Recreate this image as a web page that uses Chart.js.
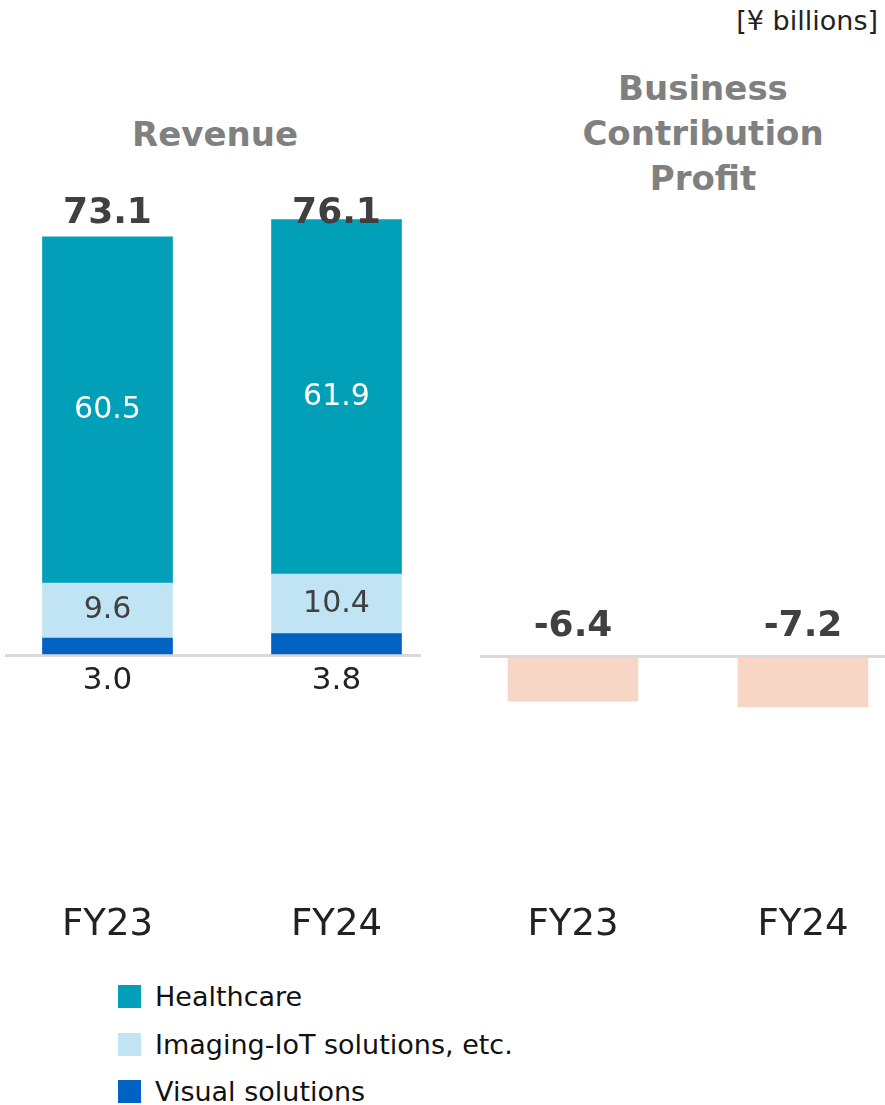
<!DOCTYPE html>
<html>
<head>
<meta charset="utf-8">
<script src="https://cdn.jsdelivr.net/npm/chart.js@4"></script>
<style>
body { margin:0; width:885px; height:1105px; background:#fff; font-family:'DejaVu Sans', Verdana, sans-serif; position:relative; overflow:hidden; }
.box { position:absolute; top:0; height:1000px; overflow:hidden; }
.box canvas { position:absolute; top:0; }
.unit { position:absolute; right:7px; top:5px; font-size:27px; color:#222; }
.title { position:absolute; width:400px; font-weight:bold; font-size:34px; color:#808080; text-align:center; line-height:45px; }
#legend { position:absolute; left:118px; top:973px; }
.item { height:47.5px; display:flex; align-items:center; font-size:27px; color:#111; }
.sw { width:23px; height:23px; margin-right:14px; }
</style>
</head>
<body>
<div class="unit">[¥ billions]</div>
<div class="title" style="left:15px; top:112px;">Revenue</div>
<div class="title" style="left:503px; top:66px;">Business<br>Contribution<br>Profit</div>

<div class="box" style="left:5px; width:416px;">
    <canvas id="revenueChart" width="458" height="965" style="left:-12px;"></canvas>
</div>
<div class="box" style="left:480px; width:405px;">
    <canvas id="profitChart" width="460" height="965" style="left:-22px;"></canvas>
</div>

<div id="legend"></div>

<script>
const years = ['FY23', 'FY24'];
const segmentNames = ['Healthcare', 'Imaging-IoT solutions, etc.', 'Visual solutions'];
const segmentColors = ['#029fb8', '#c1e4f5', '#0062c3'];
const healthcare = [60.5, 61.9];
const imaging = [9.6, 10.4];
const visual = [3.0, 3.8];
const revenueTotal = [73.1, 76.1];
const profit = [-6.4, -7.2];

Chart.defaults.font.family = "'DejaVu Sans', Verdana, sans-serif";
Chart.defaults.color = '#222';

// baseline only at zero
const zeroGrid = {
    drawTicks: false,
    lineWidth: 3,
    color: function(c) {
        return c.tick && c.tick.value === 0 ? '#d9d9d9' : 'rgba(0,0,0,0)';
    }
};

const xAxis = {
    stacked: true,
    grid: { display: false, drawTicks: false },
    border: { display: false },
    ticks: { padding: 17, font: { size: 37 }, color: '#222' }
};

const revenueLabels = {
    id: 'revenueLabels',
    afterDatasetsDraw(chart) {
        const ctx = chart.ctx;
        const y = chart.scales.y;
        const zero = y.getPixelForValue(0);
        ctx.save();
        ctx.textAlign = 'center';
        ctx.textBaseline = 'middle';
        chart.data.datasets.forEach((ds, i) => {
            chart.getDatasetMeta(i).data.forEach((bar, j) => {
                const v = ds.data[j].toFixed(1);
                if (i === 0) {
                    ctx.font = "31px 'DejaVu Sans'";
                    ctx.fillStyle = '#222';
                    ctx.fillText(v, bar.x, zero + 26);
                } else {
                    ctx.font = "30px 'DejaVu Sans'";
                    ctx.fillStyle = i === 2 ? '#ffffff' : '#404040';
                    ctx.fillText(v, bar.x, (bar.y + bar.base) / 2);
                }
            });
        });
        // totals
        const top = y.getPixelForValue(Math.max(...revenueTotal)) - 6;
        ctx.font = "bold 36px 'DejaVu Sans'";
        ctx.fillStyle = '#404040';
        chart.getDatasetMeta(0).data.forEach((bar, j) => {
            ctx.fillText(revenueTotal[j].toFixed(1), bar.x, top);
        });
        ctx.restore();
    }
};

const profitLabels = {
    id: 'profitLabels',
    afterDatasetsDraw(chart) {
        const ctx = chart.ctx;
        const zero = chart.scales.y.getPixelForValue(0);
        ctx.save();
        ctx.textAlign = 'center';
        ctx.textBaseline = 'middle';
        ctx.font = "bold 36px 'DejaVu Sans'";
        ctx.fillStyle = '#404040';
        chart.getDatasetMeta(0).data.forEach((bar, j) => {
            ctx.fillText(profit[j].toFixed(1), bar.x, zero - 29);
        });
        ctx.restore();
    }
};

new Chart(document.getElementById('revenueChart'), {
    type: 'bar',
    plugins: [revenueLabels],
    data: {
        labels: years,
        datasets: [
            { label: segmentNames[2], data: visual, backgroundColor: segmentColors[2] },
            { label: segmentNames[1], data: imaging, backgroundColor: segmentColors[1] },
            { label: segmentNames[0], data: healthcare, backgroundColor: segmentColors[0] }
        ]
    },
    options: {
        responsive: false,
        animation: false,
        layout: { padding: { top: 195, left: 0, right: 0, bottom: 0 } },
        datasets: { bar: { barThickness: 130, borderWidth: 0 } },
        plugins: { legend: { display: false }, tooltip: { enabled: false } },
        scales: {
            x: xAxis,
            y: {
                stacked: true,
                min: -40.4,
                max: 80.4,
                ticks: { display: false, stepSize: 10 },
                border: { display: false },
                grid: zeroGrid
            }
        }
    }
});

new Chart(document.getElementById('profitChart'), {
    type: 'bar',
    plugins: [profitLabels],
    data: {
        labels: years,
        datasets: [
            { label: 'Business Contribution Profit', data: profit, backgroundColor: '#f8d6c5' }
        ]
    },
    options: {
        responsive: false,
        animation: false,
        layout: { padding: { top: 195, left: 0, right: 0, bottom: 0 } },
        datasets: { bar: { barThickness: 130, borderWidth: 0 } },
        plugins: { legend: { display: false }, tooltip: { enabled: false } },
        scales: {
            x: xAxis,
            y: {
                min: -32.7,
                max: 65.4,
                ticks: { display: false, stepSize: 10 },
                border: { display: false },
                grid: zeroGrid
            }
        }
    }
});

/* legend */
const legend = document.getElementById('legend');
segmentNames.forEach((name, i) => {
    const row = document.createElement('div');
    row.className = 'item';
    row.innerHTML = '<span class="sw" style="background:' + segmentColors[i] + '"></span>' + name;
    legend.appendChild(row);
});
</script>
</body>
</html>
